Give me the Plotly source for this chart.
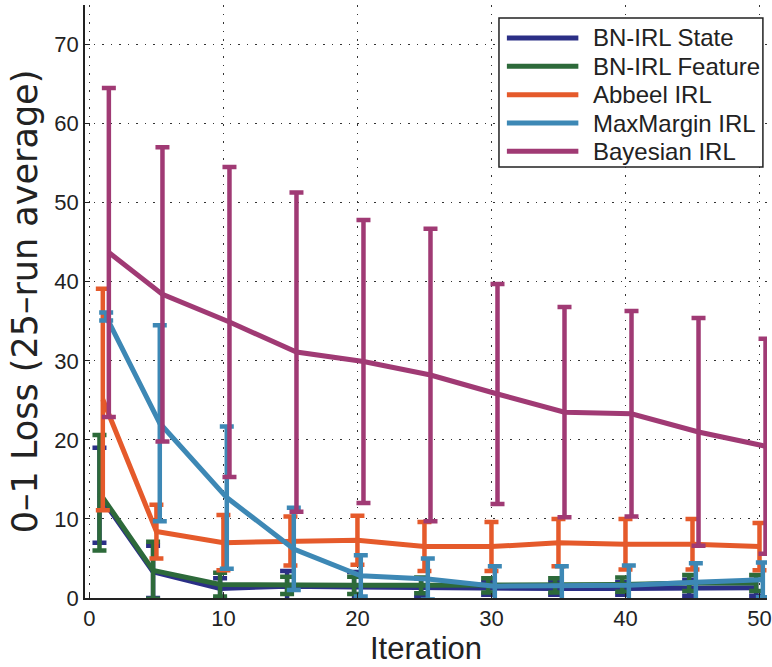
import plotly.graph_objects as go

iterations = [1, 5, 10, 15, 20, 25, 30, 35, 40, 45, 50]

series_names = ["BN-IRL State", "BN-IRL Feature", "Abbeel IRL", "MaxMargin IRL", "Bayesian IRL"]

state_mean = [13.0, 3.3, 1.2, 1.5, 1.4, 1.3, 1.2, 1.2, 1.2, 1.3, 1.3]
state_err = [6.0, 3.3, 1.3, 1.9, 1.9, 1.2, 0.8, 0.8, 0.8, 1.0, 1.0]

feature_mean = [13.3, 3.5, 1.7, 1.6, 1.6, 1.6, 1.6, 1.6, 1.7, 1.9, 1.9]
feature_err = [7.3, 3.6, 1.5, 1.1, 1.1, 1.0, 0.9, 0.9, 0.9, 1.0, 1.0]

abbeel_mean = [25.1, 8.4, 7.0, 7.2, 7.3, 6.5, 6.5, 7.0, 6.8, 6.8, 6.5]
abbeel_err = [14.0, 3.4, 3.5, 3.1, 3.1, 3.1, 3.1, 3.0, 3.2, 3.2, 3.0]

maxmargin_mean = [35.6, 22.1, 12.7, 6.2, 2.8, 2.4, 1.5, 1.5, 1.6, 2.0, 2.3]
maxmargin_err = [0.5, 12.4, 9.0, 5.2, 2.6, 2.6, 2.5, 2.5, 2.5, 2.4, 2.2]

bayesian_mean = [43.7, 38.4, 34.9, 31.1, 29.9, 28.2, 25.8, 23.5, 23.3, 21.0, 19.2]
bayesian_err = [20.8, 18.6, 19.6, 20.2, 17.9, 18.5, 13.9, 13.3, 13.0, 14.4, 13.6]

y_ticks = [0, 10, 20, 30, 40, 50, 60, 70]
x_ticks = [0, 10, 20, 30, 40, 50]

means = [state_mean, feature_mean, abbeel_mean, maxmargin_mean, bayesian_mean]
errs = [state_err, feature_err, abbeel_err, maxmargin_err, bayesian_err]

# styling (positions / colours)
colors = ["#2b2f86", "#2d6a3a", "#e55a2b", "#3d88b5", "#a03a74"]
x_offsets = [-0.25, -0.25, 0.0, 0.25, 0.45]

FONT = "Liberation Sans, Arial, Helvetica, sans-serif"

fig = go.Figure()
for name, m, e, c, off in zip(series_names, means, errs, colors, x_offsets):
    fig.add_trace(go.Scatter(
        x=[i + off for i in iterations],
        y=m,
        name=name,
        mode="lines",
        showlegend=False,
        line=dict(color=c, width=5),
        error_y=dict(type="data", array=e, visible=True, color=c, thickness=4.5, width=7),
    ))

# Legend box drawn in paper coordinates (MATLAB-style long line samples)
leg_x0, leg_x1 = 0.607, 0.994
leg_y0, leg_y1 = 0.727, 0.978
sample_x0, sample_x1 = 0.6186, 0.7234
text_x = 0.7420
row_top = 0.9444
row_step = 0.0478

shapes = [dict(type="rect", xref="paper", yref="paper", x0=leg_x0, x1=leg_x1,
               y0=leg_y0, y1=leg_y1, line=dict(color="#222", width=1.5),
               fillcolor="white", layer="above")]
annotations = []
for k, (name, c) in enumerate(zip(series_names, colors)):
    yy = row_top - k * row_step
    shapes.append(dict(type="line", xref="paper", yref="paper", x0=sample_x0, x1=sample_x1,
                       y0=yy, y1=yy, line=dict(color=c, width=5), layer="above"))
    annotations.append(dict(xref="paper", yref="paper", x=text_x, y=yy, text=name,
                            showarrow=False, xanchor="left", yanchor="middle",
                            font=dict(family=FONT, size=24, color="#222")))

grid_dash = "1.5px,7px"
fig.update_layout(
    width=772,
    height=667,
    paper_bgcolor="white",
    plot_bgcolor="white",
    margin=dict(l=85, r=0, t=5, b=69),
    font=dict(family=FONT, size=22, color="#222"),
    shapes=shapes,
    annotations=annotations,
    xaxis=dict(
        range=[-0.33, 50.56],
        tickvals=x_ticks,
        ticks="inside", ticklen=5, tickcolor="#222",
        showline=True, linecolor="#222", linewidth=1.5,
        showgrid=True, gridcolor="#333", gridwidth=1, griddash=grid_dash,
        zeroline=False,
        ticklabeloverflow="allow",
        tickfont=dict(size=22),
        title=dict(text="Iteration", font=dict(size=31), standoff=4),
    ),
    yaxis=dict(
        range=[0, 75],
        tickvals=y_ticks,
        ticks="inside", ticklen=5, tickcolor="#222",
        showline=True, linecolor="#222", linewidth=1.5,
        showgrid=True, gridcolor="#333", gridwidth=1, griddash=grid_dash,
        zeroline=False,
        tickfont=dict(size=22),
        title=dict(text="0\u20131 Loss (25\u2013run average)",
                   font=dict(family="DejaVu Sans, sans-serif", size=35), standoff=6),
    ),
)

fig.write_html("out.html")
